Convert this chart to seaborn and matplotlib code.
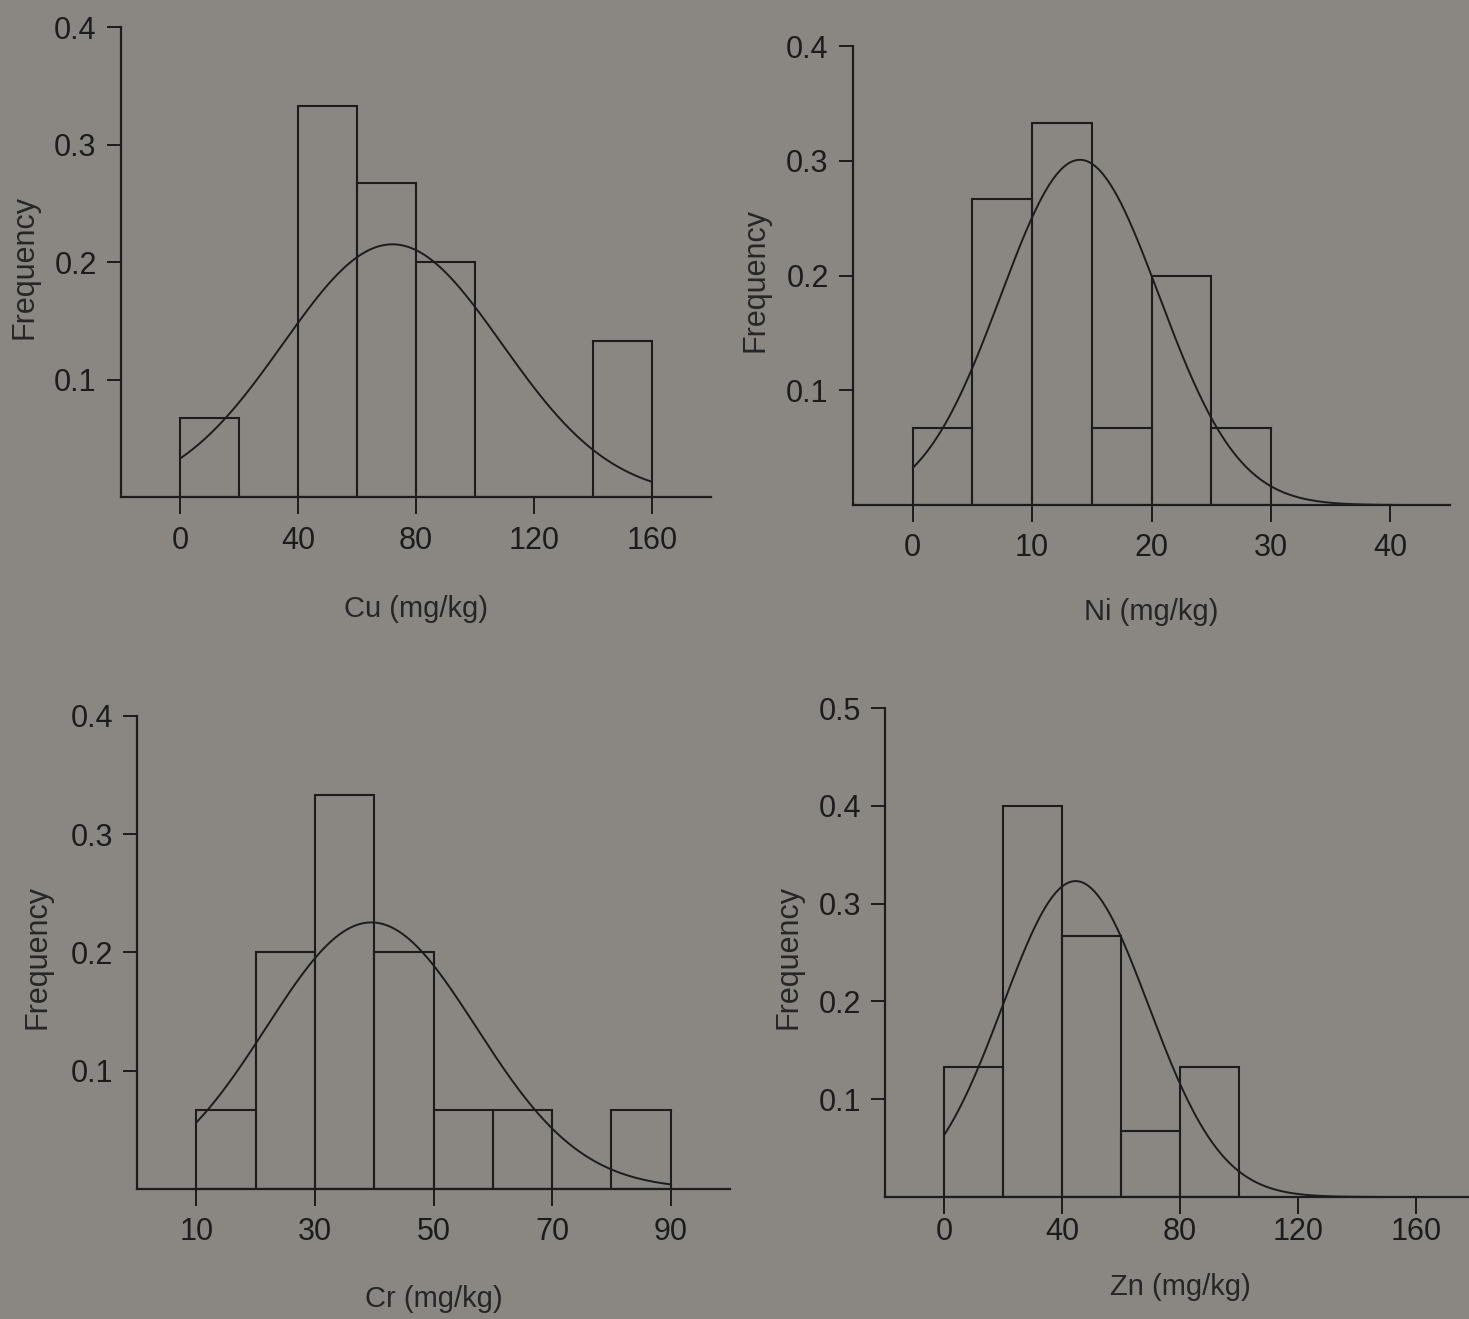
"""
Frequency histograms of heavy metal concentrations (Cu, Ni, Cr, Zn)
with fitted normal curves, 2x2 layout.
"""

import numpy as np
import pandas as pd
import matplotlib
matplotlib.use('Agg')
import matplotlib.pyplot as plt
import seaborn as sns

# Config
BG = '#8a8782'
INK = '#1c1c1c'
OUT = 'out.png'

# Data
cu_edges = [0, 20, 40, 60, 80, 100, 120, 140, 160]
cu_freq = [0.067, 0.0, 0.333, 0.267, 0.200, 0.0, 0.0, 0.133]
cu_mean, cu_sd = 72.0, 37.1

ni_edges = [0, 5, 10, 15, 20, 25, 30]
ni_freq = [0.067, 0.267, 0.333, 0.067, 0.200, 0.067]
ni_mean, ni_sd = 14.0, 6.63

cr_edges = [10, 20, 30, 40, 50, 60, 70, 80, 90]
cr_freq = [0.067, 0.200, 0.333, 0.200, 0.067, 0.067, 0.0, 0.067]
cr_mean, cr_sd = 39.5, 17.7

zn_edges = [0, 20, 40, 60, 80, 100]
zn_freq = [0.133, 0.400, 0.267, 0.067, 0.133]
zn_mean, zn_sd = 44.6, 24.7

cu_xticks = [0, 40, 80, 120, 160]
ni_xticks = [0, 10, 20, 30, 40]
cr_xticks = [10, 30, 50, 70, 90]
zn_xticks = [0, 40, 80, 120, 160]

sns.set_style('ticks')
plt.rcParams['font.family'] = ['Liberation Sans', 'DejaVu Sans']
plt.rcParams['axes.linewidth'] = 1.6
plt.rcParams['axes.edgecolor'] = INK
plt.rcParams['xtick.color'] = INK
plt.rcParams['ytick.color'] = INK
plt.rcParams['text.color'] = INK


def draw_panel(fig, rect, edges, freq, mean, sd, curve_range, xlim, ylim,
               xticks, yticks, xlabel, xlab_y, ylab_x, xpad):
    ax = fig.add_axes(rect)
    ax.set_facecolor('none')

    centers = [(a + b) / 2 for a, b in zip(edges[:-1], edges[1:])]
    df = pd.DataFrame({'x': centers, 'w': freq})
    sns.histplot(data=df, x='x', weights='w', bins=list(edges), stat='count',
                 fill=False, element='bars', color=INK, linewidth=1.5,
                 ax=ax)

    # fitted normal curve scaled to bin width
    width = edges[1] - edges[0]
    xs = np.linspace(curve_range[0], curve_range[1], 300)
    ys = width * np.exp(-0.5 * ((xs - mean) / sd) ** 2) / (sd * np.sqrt(2 * np.pi))
    sns.lineplot(x=xs, y=ys, color=INK, linewidth=1.4, ax=ax)

    ax.set_xlim(*xlim)
    ax.set_ylim(*ylim)
    ax.set_xticks(xticks)
    ax.set_yticks(yticks)
    ax.set_yticklabels([f'{t:.1f}' for t in yticks])
    ax.tick_params(axis='x', length=12, width=1.4, labelsize=22, pad=xpad, direction='out')
    ax.tick_params(axis='y', length=10, width=1.4, labelsize=22, pad=7.5, direction='out')
    sns.despine(ax=ax)

    ax.set_xlabel(xlabel, fontsize=21, va='center')
    ax.xaxis.set_label_coords(0.5, xlab_y)
    ax.set_ylabel('Frequency', fontsize=22, va='center')
    ax.yaxis.set_label_coords(ylab_x, 0.49)
    return ax


def main():
    fig = plt.figure(figsize=(14.69, 13.19), dpi=100)
    fig.patch.set_facecolor(BG)

    draw_panel(fig, [0.0824, 0.6232, 0.4016, 0.3563], cu_edges, cu_freq,
               cu_mean, cu_sd, (0, 160), (-20, 180), (0, 0.4),
               cu_xticks, [0.1, 0.2, 0.3, 0.4], 'Cu (mg/kg)', -0.238, -0.164, 9)
    draw_panel(fig, [0.5807, 0.6171, 0.4064, 0.3480], ni_edges, ni_freq,
               ni_mean, ni_sd, (0, 45), (-5, 45), (0, 0.4),
               ni_xticks, [0.1, 0.2, 0.3, 0.4], 'Ni (mg/kg)', -0.233, -0.164, 8)
    draw_panel(fig, [0.0933, 0.0986, 0.4037, 0.3586], cr_edges, cr_freq,
               cr_mean, cr_sd, (10, 90), (0, 100), (0, 0.4),
               cr_xticks, [0.1, 0.2, 0.3, 0.4], 'Cr (mg/kg)', -0.232, -0.168, 8.5)
    draw_panel(fig, [0.6025, 0.0925, 0.4016, 0.3707], zn_edges, zn_freq,
               zn_mean, zn_sd, (0, 180), (-20, 180), (0, 0.5),
               zn_xticks, [0.1, 0.2, 0.3, 0.4, 0.5], 'Zn (mg/kg)', -0.184, -0.163, 2.5)

    fig.savefig(OUT, dpi=100, facecolor=BG)
    plt.close(fig)


if __name__ == '__main__':
    main()
